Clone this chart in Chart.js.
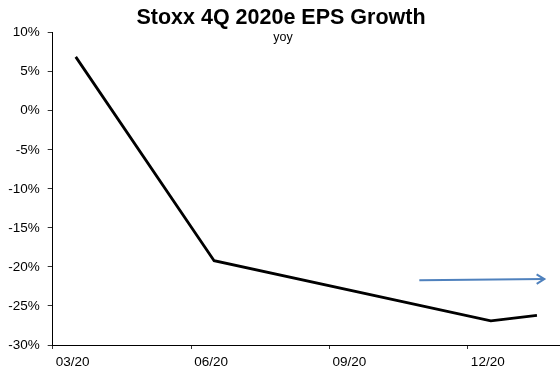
<!DOCTYPE html>
<html>
<head>
<meta charset="utf-8">
<script src="https://cdn.jsdelivr.net/npm/chart.js@4.4.1/dist/chart.umd.min.js"></script>
<style>
  html, body { margin: 0; padding: 0; background: #fff; }
  #wrap { width: 560px; height: 376px; position: relative; }
</style>
</head>
<body>
<div id="wrap"><canvas id="chart"></canvas></div>
<script>
// months counted from the start of March 2020
const months = [0.5, 3.5, 9.5, 10.5];
const epsGrowth = [6.9, -19.2, -26.9, -26.2]; // % yoy

const tickMonths = [0, 3, 6, 9];
const tickLabels = ['03/20', '06/20', '09/20', '12/20'];

// blue "trend" arrow
const arrowMonths = [7.95, 10.66];
const arrowValues = [-21.7, -21.55];

const FONT = "Arial, 'Liberation Sans', sans-serif";

const titlePlugin = {
  id: 'titles',
  afterDraw(chart) {
    const ctx = chart.ctx;
    ctx.save();
    ctx.fillStyle = '#000';
    ctx.textAlign = 'center';
    ctx.textBaseline = 'alphabetic';
    ctx.font = 'bold 21.5px ' + FONT;
    ctx.fillText('Stoxx 4Q 2020e EPS Growth', 281, 24);
    ctx.font = '12.5px ' + FONT;
    ctx.fillText('yoy', 283, 41);
    ctx.restore();
  }
};

// open arrow head at the end of the arrow dataset
const arrowHead = {
  id: 'arrowHead',
  afterDatasetsDraw(chart) {
    const pts = chart.getDatasetMeta(1).data;
    if (pts.length < 2) return;
    const a = pts[pts.length - 2], b = pts[pts.length - 1];
    const ang = Math.atan2(b.y - a.y, b.x - a.x);
    const len = 9, spread = 0.55;
    const ctx = chart.ctx;
    ctx.save();
    ctx.strokeStyle = '#4f81bd';
    ctx.lineWidth = 2;
    ctx.beginPath();
    ctx.moveTo(b.x - len * Math.cos(ang - spread), b.y - len * Math.sin(ang - spread));
    ctx.lineTo(b.x, b.y);
    ctx.lineTo(b.x - len * Math.cos(ang + spread), b.y - len * Math.sin(ang + spread));
    ctx.stroke();
    ctx.restore();
  }
};

new Chart(document.getElementById('chart'), {
  type: 'line',
  data: {
    datasets: [
      {
        data: months.map((m, i) => ({ x: m, y: epsGrowth[i] })),
        borderColor: '#000',
        borderWidth: 2.8,
        pointRadius: 0,
        tension: 0
      },
      {
        data: arrowMonths.map((m, i) => ({ x: m, y: arrowValues[i] })),
        borderColor: '#4f81bd',
        borderWidth: 2,
        pointRadius: 0,
        tension: 0
      }
    ]
  },
  options: {
    responsive: true,
    maintainAspectRatio: false,
    animation: false,
    layout: { padding: { top: 32.7, left: 0, right: 0, bottom: 0 } },
    plugins: {
      legend: { display: false },
      tooltip: { enabled: false },
      title: { display: false }
    },
    scales: {
      x: {
        type: 'linear',
        min: 0,
        max: 11,
        afterBuildTicks: scale => { scale.ticks = tickMonths.map(v => ({ value: v })); },
        afterFit: scale => { scale.height = 31; },
        grid: { drawOnChartArea: false, drawTicks: true, tickLength: 4, color: '#333' },
        border: { display: true, color: '#000', width: 1 },
        ticks: {
          callback: v => tickLabels[tickMonths.indexOf(v)],
          labelOffset: 20,
          padding: 5,
          maxRotation: 0,
          color: '#000',
          font: { family: FONT, size: 13.5 }
        }
      },
      y: {
        min: -30,
        max: 10,
        afterFit: scale => { scale.width = 52.7; },
        grid: { drawOnChartArea: false, drawTicks: true, tickLength: 5, color: '#333' },
        border: { display: true, color: '#000', width: 1 },
        ticks: {
          stepSize: 5,
          padding: 8,
          color: '#000',
          callback: v => v + '%',
          font: { family: FONT, size: 13.5 }
        }
      }
    }
  },
  plugins: [titlePlugin, arrowHead]
});
</script>
</body>
</html>
